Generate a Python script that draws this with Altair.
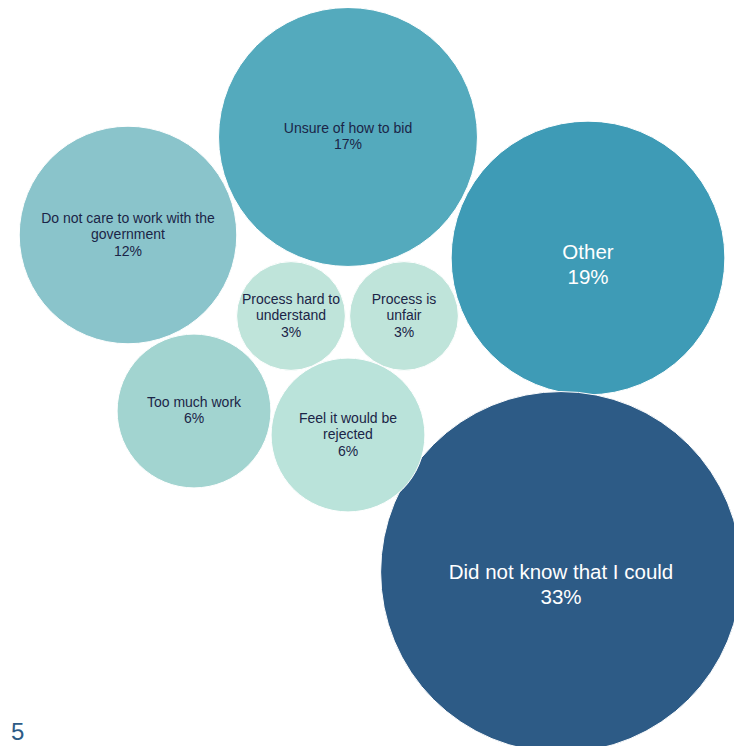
import altair as alt
import pandas as pd

# Data (plot coordinates: page pixel - 8px margin)
labels = [
    "Unsure of how to bid",
    "Other",
    "Did not know that I could",
    "Do not care to work with the\ngovernment",
    "Process hard to\nunderstand",
    "Process is\nunfair",
    "Too much work",
    "Feel it would be\nrejected",
]
values = [17, 19, 33, 12, 3, 3, 6, 6]
cx = [340, 580, 553, 120, 283, 396, 186, 340]
cy = [129, 250, 564, 227, 308, 308, 403, 427]
colors = ["#54AABD", "#3E9BB6", "#2D5B86", "#8AC4CB", "#BFE4DA", "#BFE4DA", "#A2D4D0", "#BAE3DA"]
big = [False, True, True, False, False, False, False, False]

df = pd.DataFrame({
    "label": labels,
    "value": values,
    "x": cx,
    "y": cy,
    "color": colors,
    "big": big,
})
df["text"] = df["label"] + "\n" + df["value"].astype(str) + "%"
df["lines"] = df["text"].str.count("\n") + 1

W, H = 726, 738
k = 31.4
# Vega circle size = (2r)^2
max_size = 4 * k * k * 33

xs = alt.X("x:Q", scale=alt.Scale(domain=[0, W], nice=False, zero=False), axis=None)
ys = alt.Y("y:Q", scale=alt.Scale(domain=[0, H], nice=False, zero=False, reverse=True), axis=None)

circles = alt.Chart(df).mark_circle(opacity=1, stroke="white", strokeWidth=1).encode(
    x=xs,
    y=ys,
    size=alt.Size("value:Q", scale=alt.Scale(domain=[0, 33], range=[0, max_size], zero=True), legend=None),
    color=alt.Color("color:N", scale=None),
)

layers = [circles]
SMALL_LH = 16.5
for n in [2, 3]:
    sub = df[(~df["big"]) & (df["lines"] == n)]
    layers.append(alt.Chart(sub).mark_text(
        font="Liberation Sans", fontSize=14, color="#1B2547", lineBreak="\n", lineHeight=SMALL_LH,
        align="center", baseline="middle", dy=-(n - 1) * SMALL_LH / 2,
    ).encode(x=xs, y=ys, text="text:N"))

for name, d in [("Other", -5), ("Did not know that I could", 1)]:
    sub = df[df["label"] == name]
    layers.append(alt.Chart(sub).mark_text(
        font="Liberation Sans", fontSize=20.5, color="white", lineBreak="\n", lineHeight=25,
        align="center", baseline="middle", dy=d,
    ).encode(x=xs, y=ys, text="text:N"))

page_num = alt.Chart(pd.DataFrame({"t": ["5"]})).mark_text(
    font="Liberation Sans", fontSize=24, color="#2D5B86", align="left", baseline="alphabetic",
).encode(x=alt.value(3), y=alt.value(732), text="t:N")
layers.append(page_num)

chart = alt.layer(*layers).properties(
    width=W, height=H,
    autosize=alt.AutoSizeParams(type="none"),
    padding=0,
).configure_view(stroke=None)

chart.save("out.html", embed_options={"renderer": "svg", "actions": False})
